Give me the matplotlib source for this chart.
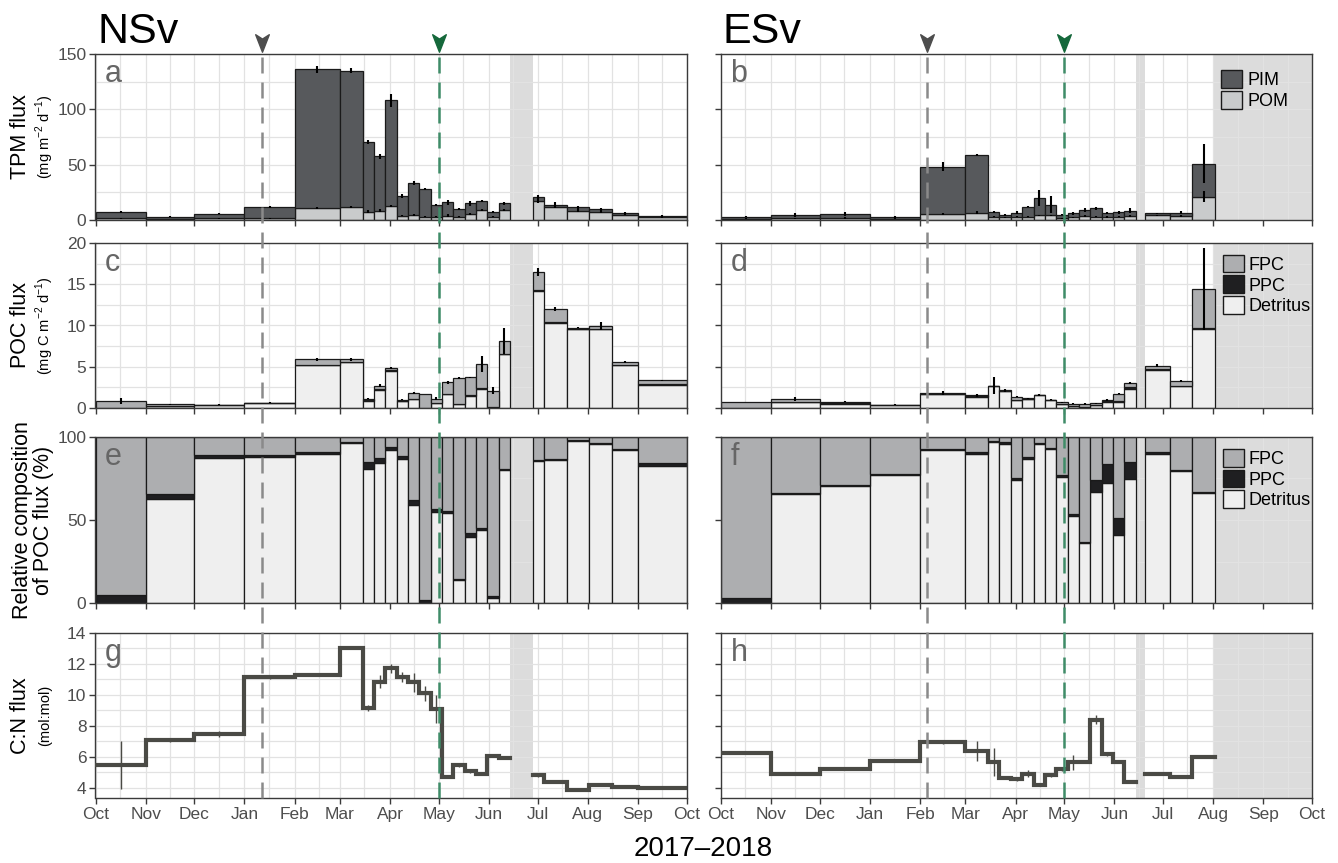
import matplotlib
matplotlib.use('Agg')
import matplotlib.pyplot as plt
import matplotlib.dates as mdates
import matplotlib.transforms as mtrans
from matplotlib.lines import Line2D
from matplotlib.patches import Patch
from matplotlib.path import Path
from matplotlib.ticker import FixedLocator
import numpy as np
import pandas as pd

plt.rcParams['font.family'] = ['Liberation Sans', 'DejaVu Sans']
plt.rcParams['lines.scale_dashes'] = False

# ---------------- data ----------------
# NSv trap intervals
ns_start = ['2017-10-01', '2017-11-01', '2017-12-01', '2018-01-01', '2018-02-01', '2018-03-01',
            '2018-03-15', '2018-03-22', '2018-03-29', '2018-04-05', '2018-04-12', '2018-04-19',
            '2018-04-26', '2018-05-03', '2018-05-10', '2018-05-17', '2018-05-24', '2018-05-31',
            '2018-06-07', '2018-06-28', '2018-07-05', '2018-07-19', '2018-08-02', '2018-08-16',
            '2018-09-01']
ns_end = ['2017-11-01', '2017-12-01', '2018-01-01', '2018-02-01', '2018-03-01', '2018-03-15',
          '2018-03-22', '2018-03-29', '2018-04-05', '2018-04-12', '2018-04-19', '2018-04-26',
          '2018-05-03', '2018-05-10', '2018-05-17', '2018-05-24', '2018-05-31', '2018-06-07',
          '2018-06-14', '2018-07-05', '2018-07-19', '2018-08-02', '2018-08-16', '2018-09-01',
          '2018-10-01']
# ESv trap intervals
es_start = ['2017-10-01', '2017-11-01', '2017-12-01', '2018-01-01', '2018-02-01', '2018-03-01',
            '2018-03-15', '2018-03-22', '2018-03-29', '2018-04-05', '2018-04-12', '2018-04-19',
            '2018-04-26', '2018-05-03', '2018-05-10', '2018-05-17', '2018-05-24', '2018-05-31',
            '2018-06-07', '2018-06-20', '2018-07-05', '2018-07-19']
es_end = ['2017-11-01', '2017-12-01', '2018-01-01', '2018-02-01', '2018-03-01', '2018-03-15',
          '2018-03-22', '2018-03-29', '2018-04-05', '2018-04-12', '2018-04-19', '2018-04-26',
          '2018-05-03', '2018-05-10', '2018-05-17', '2018-05-24', '2018-05-31', '2018-06-07',
          '2018-06-14', '2018-07-05', '2018-07-19', '2018-08-02']

# TPM flux (mg m-2 d-1): POM (bottom) and PIM (top)
ns_pom = [1.5, 1.0, 1.5, 1.5, 10.6, 12.0, 7.6, 8.5, 12.7, 4.0, 4.5, 3.0, 3.0, 4.0, 3.0, 5.5, 9.0, 3.0,
          9.0, 17.6, 12.0, 8.5, 7.6, 4.8, 2.4]
ns_pim = [5.5, 2.0, 4.0, 10.0, 125.4, 123.0, 62.9, 49.0, 95.3, 17.8, 28.8, 25.0, 10.6, 12.0, 6.7, 9.5,
          8.0, 4.0, 6.0, 3.0, 2.0, 3.0, 2.1, 1.2, 1.2]
ns_tpm_err = [1.0, 0.5, 0.5, 0.8, 3.0, 2.5, 1.5, 2.0, 5.5, 1.5, 1.5, 1.0, 1.0, 2.5, 1.0, 2.0, 1.0, 1.0,
              1.0, 2.0, 2.0, 1.5, 1.0, 1.0, 0.5]
ns_pom_err = [0.3, 0.3, 0.3, 0.3, 0.8, 0.8, 1.0, 1.0, 1.0, 0.5, 0.5, 0.5, 0.5, 1.0, 0.5, 1.0, 0.8, 0.5,
              0.8, 2.0, 1.0, 1.0, 1.0, 0.5, 0.3]
es_pom = [1.2, 1.5, 1.8, 1.2, 5.5, 6.7, 3.0, 2.4, 3.0, 3.0, 4.2, 4.2, 1.5, 2.4, 3.6, 3.0, 2.7, 3.0,
          3.6, 4.2, 3.6, 21.0]
es_pim = [1.8, 3.0, 3.7, 1.8, 42.5, 51.8, 4.3, 2.1, 3.7, 8.8, 15.5, 9.8, 3.3, 3.6, 5.4, 7.6, 3.3, 4.0,
          4.9, 1.8, 3.1, 30.0]
es_tpm_err = [0.5, 1.5, 2.0, 1.0, 4.0, 1.0, 1.0, 0.5, 1.0, 0.5, 7.5, 8.0, 0.5, 1.5, 2.0, 1.5, 1.0, 1.5,
              2.5, 0.5, 1.5, 18.0]
es_pom_err = [0.3, 0.5, 0.5, 0.3, 1.0, 1.0, 0.5, 0.5, 0.5, 0.5, 0.5, 0.5, 0.5, 0.5, 0.5, 0.5, 0.5, 0.5,
              0.5, 0.5, 0.5, 5.0]

# POC flux (mg C m-2 d-1): Detritus, PPC, FPC
ns_det = [0.0, 0.28, 0.35, 0.57, 5.2, 5.55, 0.9, 2.2, 4.45, 0.85, 1.05, 0.02, 0.63, 1.65, 0.5, 1.45,
          2.35, 0.07, 6.5, 14.2, 10.35, 9.55, 9.55, 5.2, 2.8]
ns_ppc = [0.04, 0.015, 0.01, 0.01, 0.05, 0.05, 0.05, 0.08, 0.1, 0.02, 0.05, 0.03, 0.02, 0.04, 0.03,
          0.1, 0.06, 0.02, 0.08, 0.1, 0.07, 0.08, 0.08, 0.05, 0.05]
ns_fpc = [0.81, 0.155, 0.04, 0.07, 0.65, 0.3, 0.2, 0.42, 0.3, 0.13, 0.7, 1.65, 0.5, 1.41, 3.07, 2.15,
          2.94, 2.01, 1.52, 2.2, 1.58, 0.12, 0.32, 0.35, 0.5]
ns_poc_err = [0.35, 0.05, 0.05, 0.05, 0.2, 0.2, 0.1, 0.2, 0.15, 0.05, 0.1, 0.05, 0.15, 0.2, 0.1, 0.1,
              1.0, 0.45, 1.6, 0.5, 0.25, 0.1, 0.5, 0.15, 0.1]
es_det = [0.0, 0.72, 0.54, 0.31, 1.73, 1.38, 2.61, 2.06, 1.02, 1.04, 1.52, 0.93, 0.53, 0.26, 0.18,
          0.38, 0.7, 0.72, 2.27, 4.63, 2.62, 9.55]
es_ppc = [0.02, 0.01, 0.01, 0.0, 0.01, 0.02, 0.03, 0.02, 0.01, 0.01, 0.01, 0.01, 0.01, 0.0, 0.0,
          0.04, 0.11, 0.18, 0.31, 0.05, 0.02, 0.09]
es_fpc = [0.71, 0.37, 0.22, 0.09, 0.13, 0.14, 0.06, 0.07, 0.35, 0.15, 0.05, 0.06, 0.16, 0.24, 0.32,
          0.15, 0.16, 0.85, 0.47, 0.47, 0.66, 4.81]
es_poc_err = [0.05, 0.2, 0.1, 0.05, 0.25, 0.2, 1.0, 0.2, 0.1, 0.05, 0.1, 0.05, 0.05, 0.05, 0.1, 0.05,
              0.1, 0.1, 0.1, 0.2, 0.1, 4.95]

# Relative composition of POC flux (%)
ns_pdet = [0.0, 62.9, 87.3, 88.2, 90.0, 96.2, 80.9, 84.1, 92.0, 86.7, 59.2, 0.0, 55.0, 54.4, 13.9,
           39.6, 44.0, 3.0, 80.1, 85.7, 86.1, 97.6, 95.8, 92.2, 82.7]
ns_pppc = [4.6, 3.0, 1.8, 1.0, 0.8, 0.8, 3.8, 3.2, 2.2, 1.8, 2.8, 1.8, 1.6, 1.2, 0.8, 2.6, 1.2, 1.0,
           0.8, 0.6, 0.6, 0.8, 0.8, 0.8, 1.4]
ns_pfpc = [95.4, 34.1, 10.9, 10.8, 9.2, 3.0, 15.3, 12.7, 5.8, 11.5, 38.0, 98.2, 43.4, 44.4, 85.3,
           57.8, 54.8, 96.0, 19.1, 13.7, 13.3, 1.6, 3.4, 7.0, 15.9]
es_pdet = [0.0, 65.5, 70.2, 77.1, 92.3, 89.7, 96.8, 95.9, 74.2, 87.0, 95.9, 92.7, 76.0, 52.7, 36.1,
           67.1, 72.2, 41.0, 74.6, 89.9, 79.5, 66.1]
es_pppc = [3.0, 0.6, 0.8, 0.6, 0.6, 1.2, 1.0, 0.8, 0.8, 0.8, 0.6, 0.8, 1.2, 0.8, 0.6, 6.7, 11.4, 10.1,
           10.1, 1.0, 0.6, 0.6]
es_pfpc = [97.0, 33.9, 29.0, 22.3, 7.1, 9.1, 2.2, 3.3, 25.0, 12.2, 3.5, 6.5, 22.8, 46.5, 63.3, 26.2,
           16.4, 48.9, 15.3, 9.1, 19.9, 33.3]

# C:N flux (mol:mol)
ns_cn = [5.46, 7.1, 7.5, 11.14, 11.3, 13.05, 9.16, 10.86, 11.72, 11.16, 10.82, 10.1, 9.08, 4.73, 5.48,
         5.08, 4.92, 6.09, 5.94, 4.82, 4.37, 3.85, 4.17, 4.04, 4.0]
ns_cn_err = [1.55, 0.15, 0.2, 0.1, 0.1, 0.1, 0.2, 0.4, 0.3, 0.3, 0.6, 0.5, 0.9, 0.1, 0.1, 0.1, 0.1,
             0.1, 0.1, 0.1, 0.05, 0.05, 0.05, 0.05, 0.05]
es_cn = [6.28, 4.87, 5.2, 5.76, 6.96, 6.39, 5.65, 4.65, 4.57, 4.93, 4.22, 4.83, 5.22, 5.65, 5.7, 8.41,
         6.17, 5.65, 4.39, 4.93, 4.7, 6.0]
es_cn_err = [0.05, 0.05, 0.05, 0.05, 0.1, 0.65, 0.9, 0.1, 0.1, 0.2, 0.05, 0.1, 0.1, 0.5, 0.1, 0.3,
             0.1, 0.05, 0.05, 0.05, 0.05, 0.1]

# events / shading
ns_events = ['2018-01-12', '2018-05-01']
es_events = ['2018-02-05', '2018-05-01']
ns_shade = [('2018-06-14', '2018-06-28')]
es_shade = [('2018-06-14', '2018-06-20'), ('2018-08-01', '2018-10-01')]

# ---------------- styling ----------------
C_PIM = '#57595c'
C_POM = '#c9cbcc'
C_FPC = '#adaeb0'
C_PPC = '#1f1f21'
C_DET = '#efefef'
C_EDGE = '#1a1a1a'
C_LINE = '#4a4a45'
C_SHADE = '#dcdcdc'
C_GRID = '#e2e2e2'
C_SPINE = '#3a3a3a'

W, H = 1338, 863
fig = plt.figure(figsize=(W / 100, H / 100), dpi=100)

col_x = [95.5, 721]
col_w = 591
rows = [(54, 220), (243, 408), (437, 603), (633, 798)]

def d2n(lst):
    return mdates.date2num(pd.to_datetime(lst))

xmin, xmax = d2n(['2017-10-01', '2018-10-01'])

axes = [[None] * 4 for _ in range(2)]
for c in range(2):
    for r, (top, bot) in enumerate(rows):
        ax = fig.add_axes([col_x[c] / W, 1 - bot / H, col_w / W, (bot - top) / H])
        axes[c][r] = ax

ylims = [(0, 150), (0, 20), (0, 100), (3.35, 14)]
ymaj = [[0, 50, 100, 150], [0, 5, 10, 15, 20], [0, 50, 100], [4, 6, 8, 10, 12, 14]]
ymin_ = [[25, 75, 125], [2.5, 7.5, 12.5, 17.5], [25, 75], [5, 7, 9, 11, 13]]
letters = [['a', 'c', 'e', 'g'], ['b', 'd', 'f', 'h']]

for c in range(2):
    for r in range(4):
        ax = axes[c][r]
        ax.set_xlim(xmin, xmax)
        ax.set_ylim(*ylims[r])
        ax.xaxis.set_major_locator(mdates.MonthLocator())
        ax.xaxis.set_minor_locator(mdates.MonthLocator(bymonthday=16))
        ax.xaxis.set_major_formatter(mdates.DateFormatter('%b'))
        ax.yaxis.set_major_locator(FixedLocator(ymaj[r]))
        ax.yaxis.set_minor_locator(FixedLocator(ymin_[r]))
        ax.set_axisbelow(True)
        ax.grid(True, which='both', color=C_GRID, lw=0.9)
        for s in ax.spines.values():
            s.set_color(C_SPINE)
            s.set_linewidth(1.0)
        ax.tick_params(which='major', direction='out', length=4.5, width=1.0, color=C_SPINE,
                       labelsize=12.5, labelcolor='#4d4d4d', pad=2)
        ax.tick_params(which='minor', length=0)
        if c == 1:
            ax.tick_params(labelleft=False)
        if r < 3:
            ax.tick_params(labelbottom=False)
        ax.text(0.016, 0.83, letters[c][r], transform=ax.transAxes, fontsize=22,
                color='#666666', va='baseline', ha='left', zorder=6)

# shading
for c, shades in enumerate([ns_shade, es_shade]):
    for r in range(4):
        for a, b in shades:
            x0, x1 = d2n([a, b])
            axes[c][r].axvspan(x0, x1, color=C_SHADE, lw=0, zorder=0.3)

def bar_stack(ax, starts, ends, layers, colors):
    s = d2n(starts)
    e = d2n(ends)
    w = e - s
    bottom = np.zeros(len(s))
    for vals, col in zip(layers, colors):
        v = np.array(vals, dtype=float)
        ax.bar(s, v, width=w, bottom=bottom, align='edge', color=col, edgecolor=C_EDGE,
               lw=0.9, zorder=2)
        bottom = bottom + v
    return s + w / 2, bottom

def errbars(ax, x, y, err, lw=1.5, color='black'):
    y = np.array(y, dtype=float)
    err = np.array(err, dtype=float)
    ax.vlines(x, y - err, y + err, color=color, lw=lw, zorder=3)

datasets = [
    dict(start=ns_start, end=ns_end, pom=ns_pom, pim=ns_pim, tpm_err=ns_tpm_err, pom_err=ns_pom_err,
         det=ns_det, ppc=ns_ppc, fpc=ns_fpc, poc_err=ns_poc_err,
         pdet=ns_pdet, pppc=ns_pppc, pfpc=ns_pfpc, cn=ns_cn, cn_err=ns_cn_err),
    dict(start=es_start, end=es_end, pom=es_pom, pim=es_pim, tpm_err=es_tpm_err, pom_err=es_pom_err,
         det=es_det, ppc=es_ppc, fpc=es_fpc, poc_err=es_poc_err,
         pdet=es_pdet, pppc=es_pppc, pfpc=es_pfpc, cn=es_cn, cn_err=es_cn_err),
]

for c, d in enumerate(datasets):
    # TPM
    ax = axes[c][0]
    mid, tot = bar_stack(ax, d['start'], d['end'], [d['pom'], d['pim']], [C_POM, C_PIM])
    errbars(ax, mid, tot, d['tpm_err'])
    errbars(ax, mid, d['pom'], d['pom_err'])
    # POC
    ax = axes[c][1]
    mid, tot = bar_stack(ax, d['start'], d['end'], [d['det'], d['ppc'], d['fpc']],
                         [C_DET, C_PPC, C_FPC])
    errbars(ax, mid, tot, d['poc_err'])
    # relative
    ax = axes[c][2]
    bar_stack(ax, d['start'], d['end'], [d['pdet'], d['pppc'], d['pfpc']], [C_DET, C_PPC, C_FPC])
    # C:N step line
    ax = axes[c][3]
    s = d2n(d['start'])
    e = d2n(d['end'])
    cn = np.array(d['cn'])
    seg = [0]
    groups = []
    for i in range(1, len(s)):
        if abs(s[i] - e[i - 1]) > 0.5:
            groups.append(seg)
            seg = [i]
        else:
            seg.append(i)
    groups.append(seg)
    for g in groups:
        xs = list(s[g]) + [e[g[-1]]]
        ys = list(cn[g]) + [cn[g[-1]]]
        ax.step(xs, ys, where='post', color=C_LINE, lw=3.0, zorder=3, solid_joinstyle='miter')
    errbars(ax, (s + e) / 2, cn, d['cn_err'], lw=1.0, color=C_LINE)

# legends
leg_kw = dict(loc='upper left', frameon=False, fontsize=13, handlelength=1.15, handleheight=1.15,
              handletextpad=0.3, labelspacing=0.1, borderaxespad=0, borderpad=0)
axes[1][0].legend(handles=[Patch(facecolor=C_PIM, edgecolor=C_EDGE, lw=1.0, label='PIM'),
                           Patch(facecolor=C_POM, edgecolor=C_EDGE, lw=1.0, label='POM')],
                  bbox_to_anchor=(0.846, 0.905), **leg_kw)
for r, yb in [(1, 0.93), (2, 0.93)]:
    axes[1][r].legend(handles=[Patch(facecolor=C_FPC, edgecolor=C_EDGE, lw=1.0, label='FPC'),
                               Patch(facecolor=C_PPC, edgecolor=C_EDGE, lw=1.0, label='PPC'),
                               Patch(facecolor=C_DET, edgecolor=C_EDGE, lw=1.0, label='Detritus')],
                      bbox_to_anchor=(0.849, yb), **leg_kw)

# event dashed lines + arrows
arrow_path = Path([(0, -1.0), (-0.7, 0.8), (0, 0.35), (0.7, 0.8), (0, -1.0)],
                  [Path.MOVETO, Path.LINETO, Path.LINETO, Path.LINETO, Path.CLOSEPOLY])
y_top = 1 - 54 / H
y_bot = 1 - 798 / H
y_arrow = 1 - 42 / H
for c, ev in enumerate([ns_events, es_events]):
    tr = mtrans.blended_transform_factory(axes[c][3].transData, fig.transFigure)
    xg, xgr = d2n(ev)
    for x, lc, ac in [(xg, '#8a8a8a', '#4d4d4d'), (xgr, '#3f8c68', '#15683b')]:
        fig.add_artist(Line2D([x, x], [y_bot, y_top], transform=tr, color=lc, lw=1.8,
                              dashes=(11.5, 6.5), zorder=5))
        fig.add_artist(Line2D([x], [y_arrow], transform=tr, marker=arrow_path, markersize=14,
                              color=ac, markeredgecolor=ac, lw=0, zorder=5))

# titles and labels
fig.text(98 / W, 1 - 43 / H, 'NSv', fontsize=31, va='baseline', ha='left', color='black')
fig.text(722 / W, 1 - 43 / H, 'ESv', fontsize=31, va='baseline', ha='left', color='black')

def ylab(main, sub, top, bot):
    yc = 1 - (top + bot) / 2 / H
    fig.text(21 / W, yc, main, rotation=90, fontsize=15.5, va='center', ha='center')
    if sub:
        fig.text(45 / W, yc, sub, rotation=90, fontsize=10.5, va='center', ha='center')

ylab('TPM flux', r'(mg m$^{\mathregular{-2}}$ d$^{\mathregular{-1}}$)', *rows[0])
ylab('POC flux', r'(mg C m$^{\mathregular{-2}}$ d$^{\mathregular{-1}}$)', *rows[1])
fig.text(33 / W, 1 - (rows[2][0] + rows[2][1]) / 2 / H, 'Relative composition\nof POC flux (%)',
         rotation=90, fontsize=15.5, va='center', ha='center', multialignment='center',
         linespacing=1.0)
ylab('C:N flux', '(mol:mol)', *rows[3])

fig.text(703.5 / W, 1 - 849 / H, '2017\u20132018', fontsize=20, ha='center', va='center')

fig.savefig('out.png', dpi=100)
